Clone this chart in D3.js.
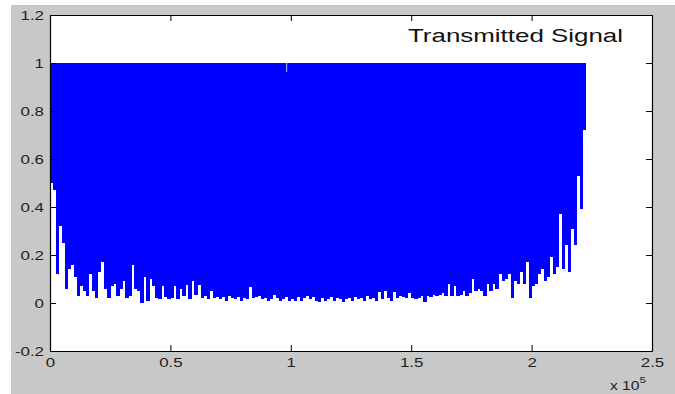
<!DOCTYPE html>
<html>
<head>
<meta charset="utf-8">
<script src="https://cdn.jsdelivr.net/npm/d3@7"></script>
<style>
  body { margin: 0; background: #fff; }
  svg { display: block; font-family: "Liberation Sans", Arial, sans-serif; }
</style>
</head>
<body>
<div id="chart"></div>
<script>
// samples per drawn strip (x axis is in samples, labelled in units of 1e5)
const sampleStep = 1250;

// lower envelope of the signal, one value per strip
const lows = [
  0.50, 0.47, 0.12, 0.32, 0.25, 0.06, 0.14, 0.16, 0.11, 0.03,
  0.07, 0.05, 0.03, 0.12, 0.05, 0.02, 0.13, 0.17, 0.06, 0.02,
  0.07, 0.08, 0.03, 0.06, 0.09, 0.02, 0.03, 0.16, 0.06, 0.05,
  0.00, 0.11, 0.01, 0.10, 0.07, 0.02, 0.015, 0.07, 0.025, 0.015,
  0.02, 0.07, 0.015, 0.06, 0.03, 0.075, 0.015, 0.09, 0.035, 0.075,
  0.02, 0.03, 0.015, 0.05, 0.02, 0.025, 0.015, 0.025, 0.01, 0.03,
  0.02, 0.015, 0.025, 0.01, 0.02, 0.015, 0.065, 0.02, 0.025, 0.03,
  0.015, 0.02, 0.01, 0.015, 0.035, 0.02, 0.01, 0.015, 0.025, 0.01,
  0.015, 0.01, 0.025, 0.01, 0.02, 0.03, 0.015, 0.025, 0.01, 0.005,
  0.02, 0.01, 0.015, 0.025, 0.01, 0.02, 0.015, 0.005, 0.015, 0.02,
  0.01, 0.025, 0.015, 0.02, 0.01, 0.03, 0.015, 0.02, 0.01, 0.045,
  0.015, 0.05, 0.02, 0.01, 0.045, 0.02, 0.03, 0.025, 0.02, 0.04,
  0.02, 0.015, 0.02, 0.03, 0.006, 0.03, 0.025, 0.035, 0.03, 0.035,
  0.04, 0.03, 0.08, 0.03, 0.07, 0.03, 0.035, 0.05, 0.03, 0.04,
  0.10, 0.05, 0.06, 0.05, 0.03, 0.08, 0.05, 0.08, 0.06, 0.12,
  0.09, 0.10, 0.12, 0.02, 0.09, 0.08, 0.13, 0.08, 0.17, 0.02,
  0.07, 0.08, 0.12, 0.14, 0.09, 0.11, 0.19, 0.12, 0.15,
  0.37, 0.14, 0.24, 0.13, 0.31, 0.24, 0.53, 0.39, 0.72
];
const highValue = 1;

// single column near x = 0.98e5 whose peak falls short of 1
const dipX = [98000];
const dipHigh = [0.962];

const xTicks = [0, 50000, 100000, 150000, 200000, 250000];
const yTicks = [-0.2, 0, 0.2, 0.4, 0.6, 0.8, 1, 1.2];
const title = "Transmitted Signal";

const W = 675, H = 394;
const margin = { top: 15, right: 23, bottom: 43, left: 50 };
const innerW = W - margin.left - margin.right;
const innerH = H - margin.top - margin.bottom;
const stretch = 1.3; // the figure text is drawn wide

const svg = d3.select('#chart').append('svg')
  .attr('width', W)
  .attr('height', H);

svg.append('rect')
  .attr('x', 11).attr('y', 5)
  .attr('width', W - 11).attr('height', H - 5)
  .attr('fill', '#c8c8c8');

const g = svg.append('g')
  .attr('transform', 'translate(' + margin.left + ',' + margin.top + ')');

g.append('rect')
  .attr('width', innerW).attr('height', innerH)
  .attr('fill', '#fff');

const x = d3.scaleLinear().domain([0, 250000]).range([0, innerW]);
const y = d3.scaleLinear().domain([-0.2, 1.2]).range([innerH, 0]);

// signal strips
g.append('g')
  .attr('shape-rendering', 'crispEdges')
  .selectAll('rect')
  .data(lows)
  .enter()
  .append('rect')
  .attr('x', (d, i) => x(i * sampleStep))
  .attr('width', (d, i) => x((i + 1) * sampleStep) - x(i * sampleStep) + 0.3)
  .attr('y', y(highValue))
  .attr('height', d => y(d) - y(highValue))
  .attr('fill', '#0000ff');

g.append('g')
  .selectAll('rect')
  .data(dipX)
  .enter()
  .append('rect')
  .attr('x', d => x(d))
  .attr('width', 1.2)
  .attr('y', y(highValue))
  .attr('height', (d, i) => y(dipHigh[i]) - y(highValue))
  .attr('fill', '#9a9aff');

const fmtY = d => String(+d.toFixed(1));
const fmtX = d => String(+(d / 1e5).toFixed(1));

const axes = [
  d3.axisBottom(x).tickValues(xTicks).tickFormat(fmtX).tickSizeInner(-6).tickSizeOuter(0).tickPadding(7),
  d3.axisLeft(y).tickValues(yTicks).tickFormat(fmtY).tickSizeInner(-6).tickSizeOuter(0).tickPadding(4.6),
  d3.axisTop(x).tickValues(xTicks).tickFormat('').tickSizeInner(-6).tickSizeOuter(0),
  d3.axisRight(y).tickValues(yTicks).tickFormat('').tickSizeInner(-6).tickSizeOuter(0)
];
const shifts = [
  'translate(0,' + innerH + ')', null, null, 'translate(' + innerW + ',0)'
];

axes.forEach((ax, k) => {
  const a = g.append('g').attr('transform', shifts[k]).call(ax);
  a.select('.domain').attr('stroke', '#000').attr('stroke-width', 1.2);
  a.selectAll('.tick line').attr('stroke', '#000');
  a.selectAll('.tick text')
    .attr('fill', '#1e1e1e')
    .attr('font-size', 13)
    .attr('font-family', '"Liberation Sans", Arial, sans-serif')
    .attr('transform', 'scale(' + stretch + ',1)');
});

// exponent label
const expo = svg.append('text')
  .attr('transform', 'translate(610,390) scale(' + stretch + ',1)')
  .attr('font-size', 12)
  .attr('fill', '#1e1e1e');
expo.append('tspan').text('x 10');
expo.append('tspan').attr('dy', -7).attr('font-size', 9).text('5');

svg.append('text')
  .attr('x', 408)
  .attr('y', 42)
  .attr('font-size', 18)
  .attr('fill', '#111')
  .attr('textLength', 215)
  .attr('lengthAdjust', 'spacingAndGlyphs')
  .text(title);
</script>
</body>
</html>
